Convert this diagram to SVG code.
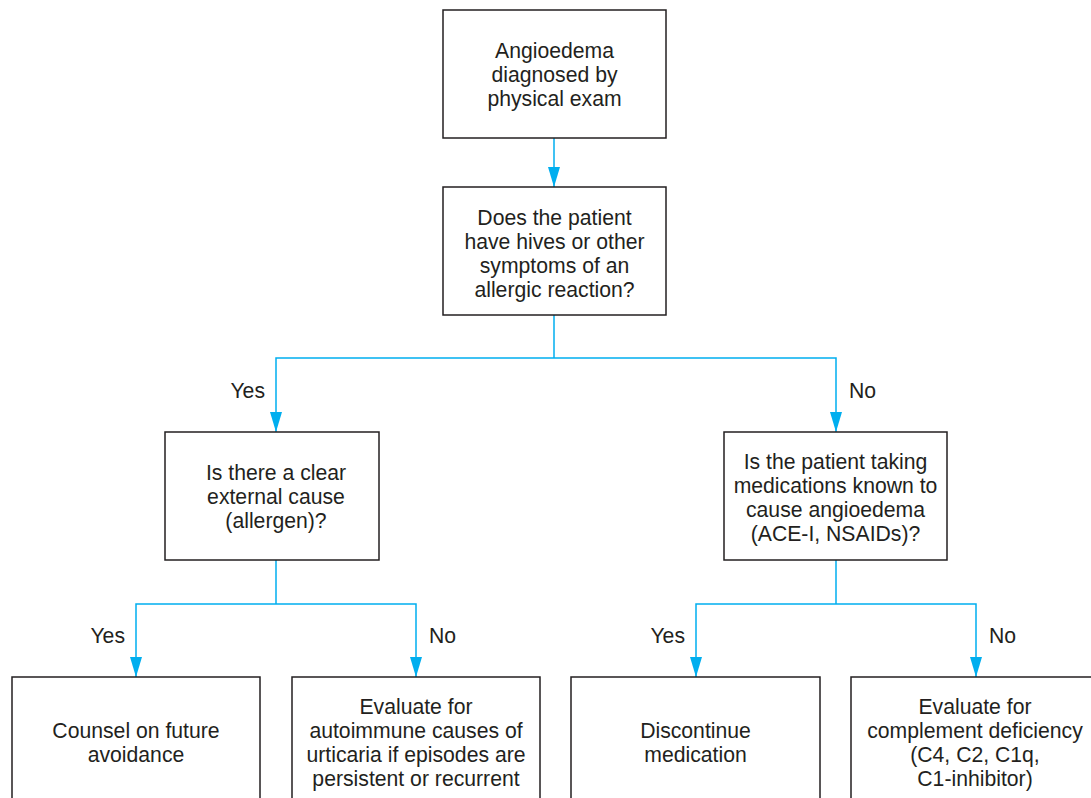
<svg xmlns="http://www.w3.org/2000/svg" width="1091" height="798" viewBox="0 0 1091 798">
<style>
.box{fill:#fff;stroke:#231f20;stroke-width:1.5}
.t{font-family:"Liberation Sans",Arial,sans-serif;font-size:21.2px;fill:#231f20;text-anchor:middle}
.l{font-family:"Liberation Sans",Arial,sans-serif;font-size:21.2px;fill:#231f20}
.c{fill:none;stroke:#00aeef;stroke-width:1.5}
</style>
<defs>
<marker id="ah" markerUnits="userSpaceOnUse" markerWidth="20" markerHeight="12" refX="20" refY="6" orient="auto">
<path d="M0,0 L20,6 L0,12 z" fill="#00aeef"/>
</marker>
</defs>
<rect width="1091" height="798" fill="#fff"/>
<g id="connectors">
<path class="c" d="M554,138 V187" marker-end="url(#ah)"/>
<path class="c" d="M554,315 V358"/>
<path class="c" d="M554,358 H276 V432" marker-end="url(#ah)"/>
<path class="c" d="M554,358 H836 V432" marker-end="url(#ah)"/>
<path class="c" d="M276,560 V604"/>
<path class="c" d="M276,604 H136 V677" marker-end="url(#ah)"/>
<path class="c" d="M276,604 H416 V677" marker-end="url(#ah)"/>
<path class="c" d="M836,560 V604"/>
<path class="c" d="M836,604 H696 V677" marker-end="url(#ah)"/>
<path class="c" d="M836,604 H976 V677" marker-end="url(#ah)"/>
<text class="l" x="265" y="398" text-anchor="end">Yes</text>
<text class="l" x="849" y="398">No</text>
<text class="l" x="125" y="643" text-anchor="end">Yes</text>
<text class="l" x="429" y="643">No</text>
<text class="l" x="685" y="643" text-anchor="end">Yes</text>
<text class="l" x="989" y="643">No</text>
</g>
<g id="n1">
<rect class="box" x="443" y="10" width="223" height="128"/>
<text class="t" x="554.5" y="58">Angioedema</text>
<text class="t" x="554.5" y="82">diagnosed by</text>
<text class="t" x="554.5" y="106">physical exam</text>
</g>
<g id="n2">
<rect class="box" x="443" y="187" width="223" height="128"/>
<text class="t" x="554.5" y="225">Does the patient</text>
<text class="t" x="554.5" y="249">have hives or other</text>
<text class="t" x="554.5" y="273">symptoms of an</text>
<text class="t" x="554.5" y="297">allergic reaction?</text>
</g>
<g id="n3">
<rect class="box" x="165" y="432" width="214" height="128"/>
<text class="t" x="276" y="480">Is there a clear</text>
<text class="t" x="276" y="504">external cause</text>
<text class="t" x="276" y="528">(allergen)?</text>
</g>
<g id="n4">
<rect class="box" x="724" y="432" width="223" height="128"/>
<text class="t" x="835.5" y="469">Is the patient taking</text>
<text class="t" x="835.5" y="493">medications known to</text>
<text class="t" x="835.5" y="517">cause angioedema</text>
<text class="t" x="835.5" y="541">(ACE-I, NSAIDs)?</text>
</g>
<g id="n5">
<rect class="box" x="12" y="677" width="248" height="140"/>
<text class="t" x="136" y="738">Counsel on future</text>
<text class="t" x="136" y="762">avoidance</text>
</g>
<g id="n6">
<rect class="box" x="292" y="677" width="248" height="140"/>
<text class="t" x="416" y="714">Evaluate for</text>
<text class="t" x="416" y="738">autoimmune causes of</text>
<text class="t" x="416" y="762">urticaria if episodes are</text>
<text class="t" x="416" y="786">persistent or recurrent</text>
</g>
<g id="n7">
<rect class="box" x="571" y="677" width="249" height="140"/>
<text class="t" x="695.5" y="738">Discontinue</text>
<text class="t" x="695.5" y="762">medication</text>
</g>
<g id="n8">
<rect class="box" x="851" y="677" width="250" height="140"/>
<text class="t" x="975" y="714">Evaluate for</text>
<text class="t" x="975" y="738">complement deficiency</text>
<text class="t" x="975" y="762">(C4, C2, C1q,</text>
<text class="t" x="975" y="786">C1-inhibitor)</text>
</g>
</svg>
